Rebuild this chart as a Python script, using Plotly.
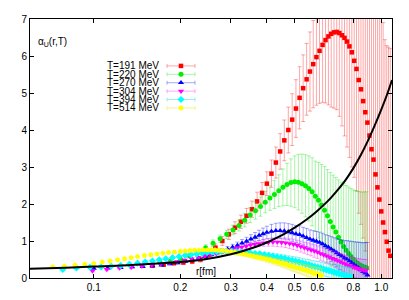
import plotly.graph_objects as go

# ---------------- data ----------------
r191 = [0.16,0.175,0.19,0.205,0.22,0.235,0.25,0.265,0.28,0.295,
        0.31,0.325,0.34,0.355,0.37,0.385,0.40,0.415,0.43,0.445,
        0.46,0.475,0.49,0.505,0.52,0.535,0.55,0.565,0.58,0.595,
        0.61,0.625,0.64,0.655,0.67,0.685,0.70,0.715,0.73,0.745,
        0.76,0.775,0.79,0.805,0.82,0.835,0.85,0.865,0.88,0.895,
        0.91,0.925,0.94,0.955,0.97,0.985,1.0,1.015,1.03,1.045,
        1.06,1.075]
v191 = [0.33,0.36,0.40,0.42,0.45,0.50,0.62,0.82,1.00,1.18,
        1.36,1.52,1.68,1.86,2.07,2.30,2.55,2.82,3.12,3.42,
        3.72,4.00,4.28,4.58,4.87,5.13,5.37,5.58,5.78,5.97,
        6.14,6.30,6.43,6.53,6.60,6.64,6.65,6.62,6.56,6.49,
        6.39,6.26,6.10,5.87,5.65,5.35,5.10,4.78,4.48,4.20,
        3.85,3.48,3.20,2.80,2.45,2.12,1.80,1.50,1.24,0.98,
        0.74,0.60]
e191 = [0.03,0.03,0.04,0.05,0.06,0.07,0.08,0.10,0.12,0.14,
        0.16,0.18,0.20,0.22,0.25,0.28,0.32,0.37,0.42,0.48,
        0.55,0.62,0.70,0.78,0.84,0.90,0.97,1.07,1.18,1.30,
        1.42,1.55,1.70,1.85,1.98,2.05,2.10,2.25,2.45,2.65,
        2.85,3.00,3.10,3.15,3.30,3.60,3.65,3.70,3.75,4.30,
        4.60,4.90,5.10,5.20,5.30,5.35,5.40,5.40,5.20,5.30,
        5.50,5.60]

r220 = [0.17,0.185,0.20,0.215,0.23,0.245,0.26,0.275,0.29,0.305,
        0.32,0.335,0.35,0.365,0.38,0.395,0.41,0.425,0.44,0.455,
        0.47,0.485,0.50,0.515,0.53,0.545,0.56,0.575,0.59,0.605,
        0.62,0.635,0.65,0.665,0.68,0.695,0.71,0.725,0.74,0.755,
        0.77,0.785,0.80,0.815,0.83,0.845,0.86,0.875,0.89]
v220 = [0.42,0.46,0.52,0.60,0.70,0.82,0.94,1.06,1.18,1.30,
        1.42,1.56,1.70,1.82,1.93,2.05,2.16,2.26,2.36,2.45,
        2.53,2.58,2.60,2.59,2.55,2.49,2.42,2.33,2.21,2.10,
        1.97,1.83,1.68,1.53,1.38,1.24,1.10,0.97,0.85,0.75,
        0.66,0.58,0.50,0.44,0.39,0.35,0.32,0.30,0.28]
e220 = [0.03,0.04,0.05,0.06,0.07,0.08,0.09,0.10,0.11,0.13,
        0.15,0.18,0.20,0.23,0.26,0.29,0.33,0.38,0.43,0.50,
        0.57,0.64,0.70,0.75,0.80,0.84,0.88,0.92,0.95,1.02,
        1.10,1.18,1.25,1.32,1.40,1.48,1.55,1.62,1.70,1.75,
        1.80,1.84,1.88,1.92,1.95,1.98,2.00,2.03,2.05]

r270 = [0.100,0.112,0.124,0.136,0.148,0.160,0.172,0.184,0.196,0.208,
        0.220,0.232,0.244,0.256,0.268,0.280,0.292,0.304,0.316,0.328,
        0.340,0.352,0.364,0.376,0.388,0.400,0.415,0.430,0.445,0.460,
        0.475,0.490,0.505,0.520,0.535,0.550,0.565,0.580,0.595,0.610,
        0.625,0.640,0.655,0.670,0.685,0.700,0.715,0.730,0.745,0.760,
        0.775,0.790,0.805,0.820,0.835,0.850,0.865,0.880,0.895]
v270 = [0.26,0.27,0.28,0.30,0.31,0.33,0.35,0.38,0.41,0.45,
        0.49,0.54,0.58,0.63,0.68,0.73,0.78,0.83,0.88,0.94,
        0.99,1.05,1.10,1.15,1.19,1.23,1.26,1.28,1.28,1.27,
        1.25,1.22,1.19,1.17,1.13,1.09,1.05,1.02,0.99,0.96,
        0.92,0.87,0.83,0.78,0.73,0.68,0.63,0.59,0.54,0.51,
        0.46,0.41,0.36,0.31,0.27,0.22,0.17,0.13,0.08]
e270 = [0.02,0.02,0.02,0.02,0.02,0.02,0.02,0.02,0.03,0.03,
        0.03,0.04,0.04,0.05,0.05,0.06,0.07,0.08,0.09,0.10,
        0.11,0.12,0.13,0.14,0.16,0.17,0.19,0.20,0.21,0.22,
        0.22,0.23,0.23,0.24,0.24,0.25,0.25,0.26,0.27,0.28,
        0.29,0.30,0.32,0.34,0.36,0.38,0.41,0.44,0.47,0.50,
        0.54,0.58,0.62,0.66,0.70,0.74,0.78,0.83,0.88]

r304 = [0.099,0.111,0.123,0.135,0.147,0.159,0.171,0.183,0.195,0.207,
        0.219,0.231,0.243,0.255,0.267,0.279,0.291,0.303,0.315,0.327,
        0.339,0.351,0.363,0.375,0.390,0.405,0.420,0.435,0.450,0.465,
        0.480,0.495,0.510,0.525,0.540,0.555,0.570,0.585,0.600,0.615,
        0.630,0.645,0.660,0.675,0.690,0.705,0.720,0.735,0.750,0.765,
        0.780,0.795,0.810,0.825,0.840,0.855,0.870,0.885]
v304 = [0.19,0.23,0.27,0.29,0.32,0.35,0.38,0.41,0.44,0.48,
        0.52,0.55,0.59,0.63,0.66,0.70,0.73,0.77,0.80,0.83,
        0.86,0.89,0.91,0.93,0.95,0.96,0.97,0.97,0.96,0.95,
        0.93,0.91,0.88,0.85,0.82,0.79,0.76,0.73,0.70,0.66,
        0.63,0.60,0.57,0.53,0.50,0.47,0.44,0.41,0.38,0.35,
        0.33,0.30,0.28,0.26,0.24,0.22,0.21,0.20]
e304 = [0.02,0.02,0.02,0.02,0.02,0.02,0.02,0.02,0.02,0.03,
        0.03,0.03,0.03,0.04,0.04,0.04,0.05,0.05,0.06,0.06,
        0.07,0.07,0.08,0.08,0.09,0.10,0.11,0.12,0.12,0.13,
        0.13,0.14,0.14,0.15,0.15,0.16,0.16,0.17,0.17,0.18,
        0.18,0.19,0.19,0.20,0.21,0.22,0.22,0.23,0.24,0.25,
        0.25,0.26,0.27,0.27,0.28,0.29,0.29,0.30]

r394 = [0.078,0.087,0.097,0.106,0.115,0.124,0.133,0.142,0.151,0.160,
        0.169,0.178,0.188,0.198,0.208,0.218,0.228,0.238,0.248,0.258,
        0.268,0.278,0.290,0.302,0.314,0.326,0.338,0.350,0.364,0.378,
        0.392,0.406,0.420,0.434,0.448,0.462,0.476,0.490,0.504,0.518,
        0.532,0.546,0.560,0.574,0.588,0.602,0.616,0.630,0.644,0.658,
        0.672,0.686,0.700,0.714,0.728,0.742,0.756,0.770,0.784]
v394 = [0.23,0.27,0.29,0.30,0.32,0.34,0.37,0.40,0.43,0.46,
        0.49,0.52,0.55,0.58,0.61,0.63,0.65,0.67,0.69,0.70,
        0.71,0.72,0.72,0.72,0.71,0.70,0.69,0.68,0.66,0.65,
        0.63,0.61,0.59,0.57,0.55,0.53,0.50,0.48,0.46,0.43,
        0.41,0.38,0.36,0.33,0.31,0.29,0.27,0.24,0.22,0.20,
        0.18,0.16,0.14,0.12,0.10,0.08,0.06,0.04,0.03]
e394 = [0.01,0.01,0.01,0.01,0.01,0.01,0.01,0.01,0.01,0.01,
        0.01,0.01,0.02,0.02,0.02,0.02,0.02,0.02,0.02,0.03,
        0.03,0.03,0.03,0.03,0.04,0.04,0.04,0.05,0.05,0.06,
        0.06,0.07,0.07,0.08,0.08,0.09,0.10,0.10,0.11,0.12,
        0.12,0.13,0.14,0.14,0.15,0.16,0.16,0.17,0.18,0.18,
        0.19,0.20,0.21,0.22,0.22,0.23,0.24,0.25,0.26]

r514 = [0.072,0.079,0.086,0.093,0.100,0.107,0.114,0.121,0.128,0.135,
        0.142,0.150,0.158,0.166,0.174,0.182,0.191,0.200,0.208,0.216,
        0.224,0.232,0.240,0.248,0.256,0.264,0.272,0.280,0.290,0.300,
        0.310,0.320,0.330,0.340,0.350,0.360,0.370,0.380,0.390,0.400,
        0.410,0.420,0.430,0.440,0.450,0.460,0.470,0.480,0.490,0.500,
        0.510,0.520,0.530,0.540,0.550,0.560,0.570,0.580,0.590,0.600,
        0.610,0.620]
v514 = [0.30,0.32,0.35,0.37,0.39,0.43,0.46,0.49,0.52,0.55,
        0.58,0.61,0.63,0.65,0.67,0.69,0.70,0.72,0.73,0.74,
        0.75,0.75,0.76,0.76,0.76,0.76,0.75,0.74,0.73,0.71,
        0.69,0.67,0.65,0.63,0.61,0.59,0.57,0.55,0.53,0.51,
        0.49,0.46,0.44,0.42,0.40,0.38,0.36,0.33,0.31,0.29,
        0.27,0.26,0.24,0.22,0.20,0.18,0.16,0.14,0.12,0.10,
        0.09,0.07]
e514 = [0.01,0.01,0.01,0.01,0.01,0.01,0.01,0.01,0.01,0.01,
        0.01,0.01,0.01,0.01,0.01,0.01,0.02,0.02,0.02,0.02,
        0.02,0.02,0.02,0.03,0.03,0.03,0.03,0.03,0.03,0.04,
        0.04,0.04,0.05,0.05,0.05,0.06,0.06,0.07,0.07,0.08,
        0.08,0.08,0.09,0.09,0.10,0.10,0.11,0.11,0.12,0.12,
        0.13,0.13,0.14,0.14,0.15,0.15,0.16,0.16,0.17,0.17,
        0.18,0.18]

r_curve = [0.06,0.08,0.10,0.12,0.15,0.20,0.25,0.30,0.35,0.40,0.45,0.50,
           0.55,0.60,0.65,0.70,0.75,0.80,0.85,0.90,0.95,1.00,1.05,1.09]
v_curve = [0.25,0.28,0.31,0.33,0.37,0.43,0.52,0.64,0.79,0.96,1.15,1.36,
           1.58,1.82,2.07,2.35,2.64,2.97,3.33,3.72,4.13,4.55,4.98,5.35]

labels = ["T=191 MeV", "T=220 MeV", "T=270 MeV", "T=304 MeV", "T=394 MeV", "T=514 MeV"]
x_tickvals = [0.1, 0.2, 0.3, 0.4, 0.5, 0.6, 0.8, 1.0]
x_ticktext = ["0.1", "0.2", "0.3", "0.4", "0.5", "0.6", "0.8", "1.0"]

series = [(r191, v191, e191), (r220, v220, e220), (r270, v270, e270),
          (r304, v304, e304), (r394, v394, e394), (r514, v514, e514)]
for s in series:
    assert len(s[0]) == len(s[1]) == len(s[2])
assert len(r_curve) == len(v_curve)

# ---------------- styles ----------------
colors = ["#ff0000", "#00ee00", "#0000ff", "#ff00ff", "#00ffff", "#ffff00"]
bar_colors = ["rgba(255,0,0,0.35)", "rgba(0,230,0,0.35)", "rgba(0,0,255,0.35)",
              "rgba(255,0,255,0.35)", "rgba(0,220,220,0.4)", "rgba(230,230,0,0.45)"]
symbols = ["square", "circle", "triangle-up", "triangle-down", "diamond", "pentagon"]
sizes = [4.5, 5, 5.5, 5.5, 5.5, 5.5]
FONT = "Liberation Sans, Arial, sans-serif"

# The page body keeps the browser's default 8 px margin, so the figure is
# sized and placed to land on the 409x300 window like the reference.
BODY = 8
W, H = 409 - BODY, 300 - BODY
L, R, T, B = 22, 17, 5, 22
pw, ph = W - L - R, H - T - B

def px_x(px):
    return (px - BODY - L) / pw

def px_y(py):
    return (H - B - (py - BODY)) / ph

fig = go.Figure()
for (r, v, e), c, bc, sym, sz, lab in zip(series, colors, bar_colors, symbols, sizes, labels):
    fig.add_trace(go.Scatter(
        x=r, y=v, mode="markers", name=lab, showlegend=False,
        marker=dict(symbol=sym, size=sz, color=c, line=dict(width=0)),
        error_y=dict(type="data", array=e, visible=True, color=bc, thickness=1, width=2),
    ))

fig.add_trace(go.Scatter(
    x=r_curve, y=v_curve, mode="lines", line=dict(color="black", width=2, shape="spline"),
    showlegend=False, hoverinfo="skip",
))

# ---- compact key, drawn like the gnuplot key (sample on an overlay axis in [0,1]) ----
legend_rows = [61.0, 69.6, 78.2, 86.8, 95.4, 104.0]
key_x = px_x(181)
key_half = 14 / pw
for yrow, c, bc, sym, sz, lab in zip(legend_rows, colors, bar_colors, symbols, sizes, labels):
    fig.add_trace(go.Scatter(
        x=[key_x], y=[px_y(yrow)], xaxis="x2", yaxis="y2", mode="markers",
        marker=dict(symbol=sym, size=sz, color=c, line=dict(width=0)),
        error_x=dict(type="constant", value=key_half, visible=True, color=bc, thickness=1, width=2),
        showlegend=False, hoverinfo="skip",
    ))
    fig.add_annotation(
        x=px_x(106), y=px_y(yrow), xref="paper", yref="paper", text=lab,
        showarrow=False, xanchor="left", yanchor="middle", borderpad=0,
        font=dict(family=FONT, size=10, color="black"),
    )

fig.add_annotation(
    x=px_x(36), y=px_y(37), xref="paper", yref="paper", text="α<sub>U</sub>(r,T)",
    showarrow=False, xanchor="left", yanchor="middle",
    font=dict(family=FONT, size=10, color="black"),
)
fig.add_annotation(
    x=px_x(206), y=px_y(271), xref="paper", yref="paper", text="r[fm]",
    showarrow=False, xanchor="center", yanchor="middle",
    font=dict(family=FONT, size=10, color="black"),
)

axis_font = dict(family=FONT, size=10, color="black")
fig.update_layout(
    width=W, height=H,
    margin=dict(l=L, r=R, t=T, b=B, pad=0),
    paper_bgcolor="white", plot_bgcolor="white",
    showlegend=False,
    xaxis=dict(
        type="log", range=[-1.2218, 0.0374],
        tickvals=x_tickvals, ticktext=x_ticktext,
        ticks="inside", ticklen=4, tickcolor="black", tickwidth=1,
        showline=True, linecolor="black", linewidth=1, mirror="allticks",
        showgrid=False, zeroline=False, tickfont=axis_font,
        ticklabeloverflow="allow",
    ),
    yaxis=dict(
        range=[0, 7], dtick=1, tick0=0,
        ticks="inside", ticklen=4, tickcolor="black", tickwidth=1,
        showline=True, linecolor="black", linewidth=1, mirror="allticks",
        showgrid=False, zeroline=False, tickfont=axis_font,
        ticklabeloverflow="allow",
    ),
    xaxis2=dict(overlaying="x", range=[0, 1], visible=False, fixedrange=True),
    yaxis2=dict(overlaying="y", range=[0, 1], visible=False, fixedrange=True),
)

fig.write_html("out.html")
